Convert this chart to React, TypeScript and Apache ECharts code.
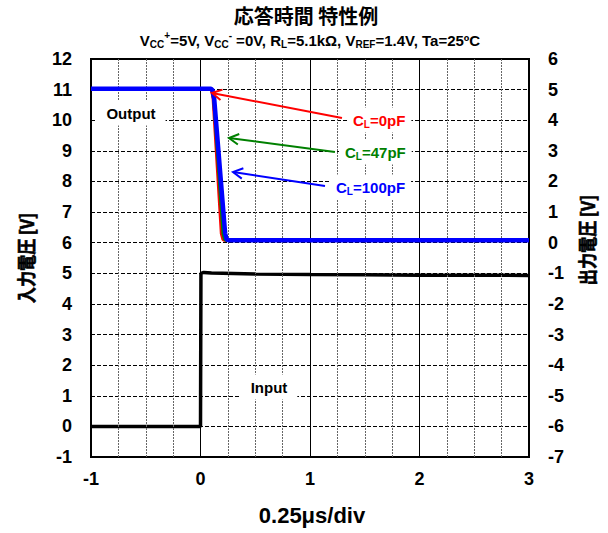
import React, { useEffect, useRef } from "react";
import * as echarts from "echarts";

// ---- data ----
const inputT = [-1, 0, 0.004, 0.03, 0.1, 0.5, 1, 1.5, 2, 2.5, 3];
const inputV = [0, 0, 5.0, 5.03, 5.01, 4.98, 4.96, 4.95, 4.94, 4.94, 4.93];

const out0T = [-1, 0.085, 0.1, 0.115, 0.19, 0.205, 0.22, 3];
const out0V = [5.03, 5.03, 5.0, 4.7, 0.3, 0.1, 0.08, 0.08];
const out47T = [-1, 0.09, 0.105, 0.12, 0.205, 0.22, 0.235, 3];
const out47V = [5.03, 5.03, 5.0, 4.7, 0.3, 0.1, 0.08, 0.08];
const out100T = [-1, 0.095, 0.11, 0.125, 0.225, 0.24, 0.255, 3];
const out100V = [5.03, 5.03, 4.98, 4.7, 0.3, 0.1, 0.08, 0.08];

// arrows: [tailX, tailY, headX, headY] in left-axis units
const arrowRed = [1.292, 10.07, 0.105, 10.89];
const arrowGreen = [1.228, 8.96, 0.26, 9.42];
const arrowBlue = [1.137, 7.85, 0.297, 8.31];

// minor vertical grid positions (0.25 µs/div subdivisions, non-integer)
const minorGridX = [-0.75, -0.5, -0.25, 0.25, 0.5, 0.75, 1.25, 1.5, 1.75, 2.25, 2.5, 2.75];

const xMin = -1, xMax = 3;
const leftMin = -1, leftMax = 12;
const rightMin = -7, rightMax = 6;

const RED = "#ff0000";
const GREEN = "#008000";
const BLUE = "#0000ff";
const LAT = "'Liberation Sans', Arial, sans-serif";
const CJK = "'Noto Sans CJK JP', sans-serif";

const pairs = (t: number[], v: number[]) => t.map((x, i) => [x, v[i]]);

export default function App() {
  const ref = useRef<HTMLDivElement>(null);
  useEffect(() => {
    document.body.style.margin = "0";
    const chart = echarts.init(ref.current!, null, { renderer: "svg" });
    const arrowColors = [RED, GREEN, BLUE];
    const labelRich = (size: number) => ({
      n: { fontSize: size, fontWeight: "bold", fontFamily: LAT, lineHeight: size + 4 },
      s: { fontSize: Math.round(size * 0.68), fontWeight: "bold", fontFamily: LAT, verticalAlign: "bottom", lineHeight: Math.round(size * 0.68) },
      p: { fontSize: Math.round(size * 0.68), fontWeight: "bold", fontFamily: LAT, verticalAlign: "top", lineHeight: Math.round(size * 0.68) },
    });
    const axisLabelStyle = { fontSize: 18, fontWeight: "bold", color: "#000", fontFamily: LAT };
    chart.setOption({
      animation: false,
      backgroundColor: "#fff",
      grid: { left: 91, right: 79, top: 59, bottom: 76, show: true, borderColor: "#000", borderWidth: 2, backgroundColor: "transparent" },
      xAxis: {
        type: "value", min: xMin, max: xMax, interval: 1,
        axisLine: { show: true, onZero: false, lineStyle: { color: "#000", width: 2 } },
        axisTick: { show: false },
        axisLabel: { ...axisLabelStyle, margin: 13 },
        splitLine: { show: true, lineStyle: { color: "#000", width: 1 } },
      },
      yAxis: [
        {
          type: "value", min: leftMin, max: leftMax, interval: 1,
          axisLine: { show: true, onZero: false, lineStyle: { color: "#000", width: 2 } },
          axisTick: { show: false },
          axisLabel: { ...axisLabelStyle, margin: 19 },
          splitLine: { show: true, lineStyle: { color: "#000", width: 1, type: [4, 2] } },
        },
        {
          type: "value", position: "right", min: rightMin, max: rightMax, interval: 1,
          axisLine: { show: true, onZero: false, lineStyle: { color: "#000", width: 2 } },
          axisTick: { show: false },
          axisLabel: { ...axisLabelStyle, margin: 19 },
          splitLine: { show: false },
        },
      ],
      series: [
        {
          type: "line", name: "minorGrid", yAxisIndex: 0, z: 1, silent: true,
          data: [], showSymbol: false,
          markLine: {
            silent: true, symbol: "none", label: { show: false },
            lineStyle: { color: "#666", width: 1, type: [2, 1] },
            data: minorGridX.map((x) => ({ xAxis: x })),
          },
        },
        { type: "line", name: "Input", data: pairs(inputT, inputV), yAxisIndex: 0, showSymbol: false, symbol: "none", lineStyle: { color: "#000", width: 3.5 }, z: 3 },
        { type: "line", name: "CL=0pF", data: pairs(out0T, out0V), yAxisIndex: 1, showSymbol: false, symbol: "none", lineStyle: { color: RED, width: 3 }, z: 4 },
        { type: "line", name: "CL=47pF", data: pairs(out47T, out47V), yAxisIndex: 1, showSymbol: false, symbol: "none", lineStyle: { color: GREEN, width: 3 }, z: 5 },
        { type: "line", name: "CL=100pF", data: pairs(out100T, out100V), yAxisIndex: 1, showSymbol: false, symbol: "none", lineStyle: { color: BLUE, width: 4.5 }, z: 6 },
        {
          type: "custom", name: "arrows", yAxisIndex: 0, clip: false, z: 20,
          encode: { x: [0, 2], y: [1, 3] },
          data: [arrowRed, arrowGreen, arrowBlue],
          renderItem: (params: any, api: any) => {
            const p1 = api.coord([api.value(0), api.value(1)]);
            const p2 = api.coord([api.value(2), api.value(3)]);
            const ang = Math.atan2(p1[1] - p2[1], p1[0] - p2[0]);
            const L = 11, spread = 0.5;
            const h1 = [p2[0] + L * Math.cos(ang + spread), p2[1] + L * Math.sin(ang + spread)];
            const h2 = [p2[0] + L * Math.cos(ang - spread), p2[1] + L * Math.sin(ang - spread)];
            const color = arrowColors[params.dataIndex];
            return {
              type: "group",
              children: [
                { type: "line", shape: { x1: p1[0], y1: p1[1], x2: p2[0], y2: p2[1] }, style: { stroke: color, lineWidth: 2 } },
                { type: "polyline", shape: { points: [h1, p2, h2] }, style: { stroke: color, lineWidth: 2, fill: "none" } },
              ],
            };
          },
        },
      ],
      graphic: [
        { type: "text", z: 100, x: 306, y: 15, style: { text: "応答時間 特性例", font: `bold 20px ${CJK}`, fill: "#000", align: "center", verticalAlign: "middle" } },
        {
          type: "text", z: 100, x: 310, y: 40,
          style: {
            text: "{n|V}{s|CC}{p|+}{n|=5V, V}{s|CC}{p|-}{n| =0V, R}{s|L}{n|=5.1kΩ, V}{s|REF}{n|=1.4V, Ta=25ºC}",
            rich: labelRich(15), fill: "#000", align: "center", verticalAlign: "middle",
          },
        },
        { type: "text", z: 100, x: 312, y: 515, style: { text: "0.25μs/div", font: `bold 22px ${LAT}`, fill: "#000", align: "center", verticalAlign: "middle" } },
        { type: "text", z: 100, x: 26, y: 258, rotation: Math.PI / 2, scaleX: 0.85, style: { text: "入力電圧 [V]", font: `bold 19px ${CJK}`, fill: "#000", align: "center", verticalAlign: "middle", stroke: "#000", lineWidth: 0.6 } },
        { type: "text", z: 100, x: 587, y: 240, rotation: Math.PI / 2, scaleX: 0.85, style: { text: "出力電圧 [V]", font: `bold 19px ${CJK}`, fill: "#000", align: "center", verticalAlign: "middle", stroke: "#000", lineWidth: 0.6 } },
        { type: "text", z: 100, x: 131, y: 113, style: { text: "Output", font: `bold 15px ${LAT}`, fill: "#000", align: "center", verticalAlign: "middle", backgroundColor: "#fff", padding: [5, 10] } },
        { type: "text", z: 100, x: 269, y: 387, style: { text: "Input", font: `bold 15px ${LAT}`, fill: "#000", align: "center", verticalAlign: "middle", backgroundColor: "#fff", padding: [5, 10] } },
        { type: "text", z: 100, x: 347, y: 120, style: { text: "{n|C}{s|L}{n|=0pF}", rich: labelRich(15), fill: RED, align: "left", verticalAlign: "middle", backgroundColor: "#fff", padding: [3, 6] } },
        { type: "text", z: 100, x: 339, y: 152, style: { text: "{n|C}{s|L}{n|=47pF}", rich: labelRich(15), fill: GREEN, align: "left", verticalAlign: "middle", backgroundColor: "#fff", padding: [3, 6] } },
        { type: "text", z: 100, x: 330, y: 187, style: { text: "{n|C}{s|L}{n|=100pF}", rich: labelRich(15), fill: BLUE, align: "left", verticalAlign: "middle", backgroundColor: "#fff", padding: [3, 6] } },
      ],
    });
    return () => chart.dispose();
  }, []);
  return <div ref={ref} style={{ width: 608, height: 533 }} />;
}
